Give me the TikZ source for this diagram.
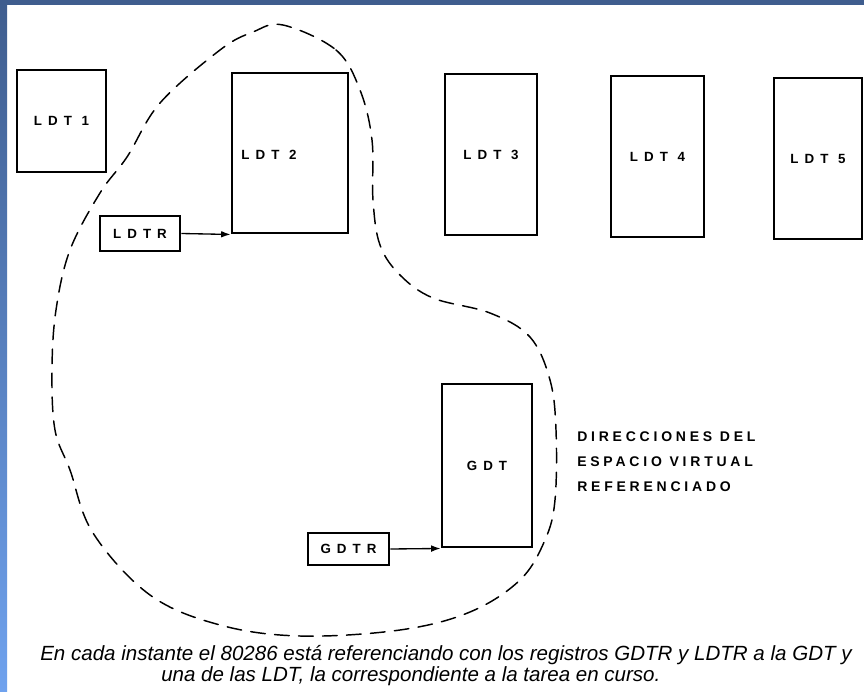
\documentclass[tikz,border=0pt]{standalone}
\usepackage{fontspec}
\setmainfont{Liberation Sans}
\usetikzlibrary{arrows.meta}
\definecolor{bandtop}{HTML}{3F5D8E}
\definecolor{bandbot}{HTML}{6FA2EE}
\newfontfamily\boxfont[LetterSpace=45]{Liberation Sans Bold}
\newfontfamily\dirfont[LetterSpace=27]{Liberation Sans Bold}
\newfontfamily\capfont{Liberation Sans}
\begin{document}
\begin{tikzpicture}[x=0.75pt,y=-0.75pt,
  tbl/.style={draw, line width=2.2pt, inner sep=0pt, font=\boxfont\fontsize{10}{11}\selectfont},
  lbl/.style={inner sep=0pt, anchor=west, font=\dirfont\fontsize{10.5}{12}\selectfont},
  captxt/.style={inner sep=0pt, anchor=west, font=\capfont\itshape\fontsize{15.4}{18}\selectfont},
  arr/.style={line width=1pt, -{Latex[length=7pt,width=5pt]}},
  bound/.style={line width=1.1pt, dash pattern=on 11pt off 7pt, line cap=round}]
\useasboundingbox (0,0) rectangle (864,692);
\fill[white] (0,0) rectangle (864,692);
\shade[top color=bandtop,bottom color=bandbot] (0,0) rectangle (7,692);
\fill[bandtop] (0,0) rectangle (864,5);

\draw[bound] plot[smooth cycle, tension=0.6] coordinates {
 (283,25) (336,50) (360,90) (372,140) (373,200) (380,245) (400,275) (433,298)
 (490,313) (530,337) (550,380) (556,430) (555,500) (545,540) (520,580) (470,612)
 (400,630) (300,636) (220,625) (150,595) (93,533) (70,470) (55,430) (52,370)
 (56,310) (70,250) (100,193) (127,157) (160,103) (220,50) (253,32)};

\node[tbl, minimum width=89*0.75pt, minimum height=102*0.75pt] (ldt1) at (61.5,121) {LDT 1};
\node[tbl, minimum width=116*0.75pt, minimum height=160*0.75pt,
      label={[xshift=-21*0.75pt, yshift=-2*0.75pt, font=\boxfont\fontsize{10}{11}\selectfont]center:LDT 2}] (ldt2) at (290,153) {};
\node[tbl, minimum width=92*0.75pt, minimum height=161*0.75pt] (ldt3) at (491,154.5) {LDT 3};
\node[tbl, minimum width=93*0.75pt, minimum height=161*0.75pt] (ldt4) at (657.5,156.5) {LDT 4};
\node[tbl, minimum width=88*0.75pt, minimum height=161*0.75pt] (ldt5) at (818,158.5) {LDT 5};
\node[tbl, minimum width=90*0.75pt, minimum height=163*0.75pt] (gdt) at (487,465.5) {GDT};
\node[tbl, minimum width=80*0.75pt, minimum height=35*0.75pt] (ldtr) at (140,233.5) {LDTR};
\node[tbl, minimum width=81*0.75pt, minimum height=32*0.75pt] (gdtr) at (348.5,549) {GDTR};

\draw[arr] (ldtr.east) -- (ldt2.south west);
\draw[arr] (gdtr.east) -- (gdt.south west);

\node[lbl] (dir1) at (577,437) {DIRECCIONES DEL};
\node[lbl] (dir2) at (577,462) {ESPACIO VIRTUAL};
\node[lbl] (dir3) at (577,487) {REFERENCIADO};

\node[captxt] (cap1) at (40,655) {En cada instante el 80286 está referenciando con los registros GDTR y LDTR a la GDT y};
\node[captxt] (cap2) at (161,676) {una de las LDT, la correspondiente a la tarea en curso.};
\end{tikzpicture}
\end{document}
